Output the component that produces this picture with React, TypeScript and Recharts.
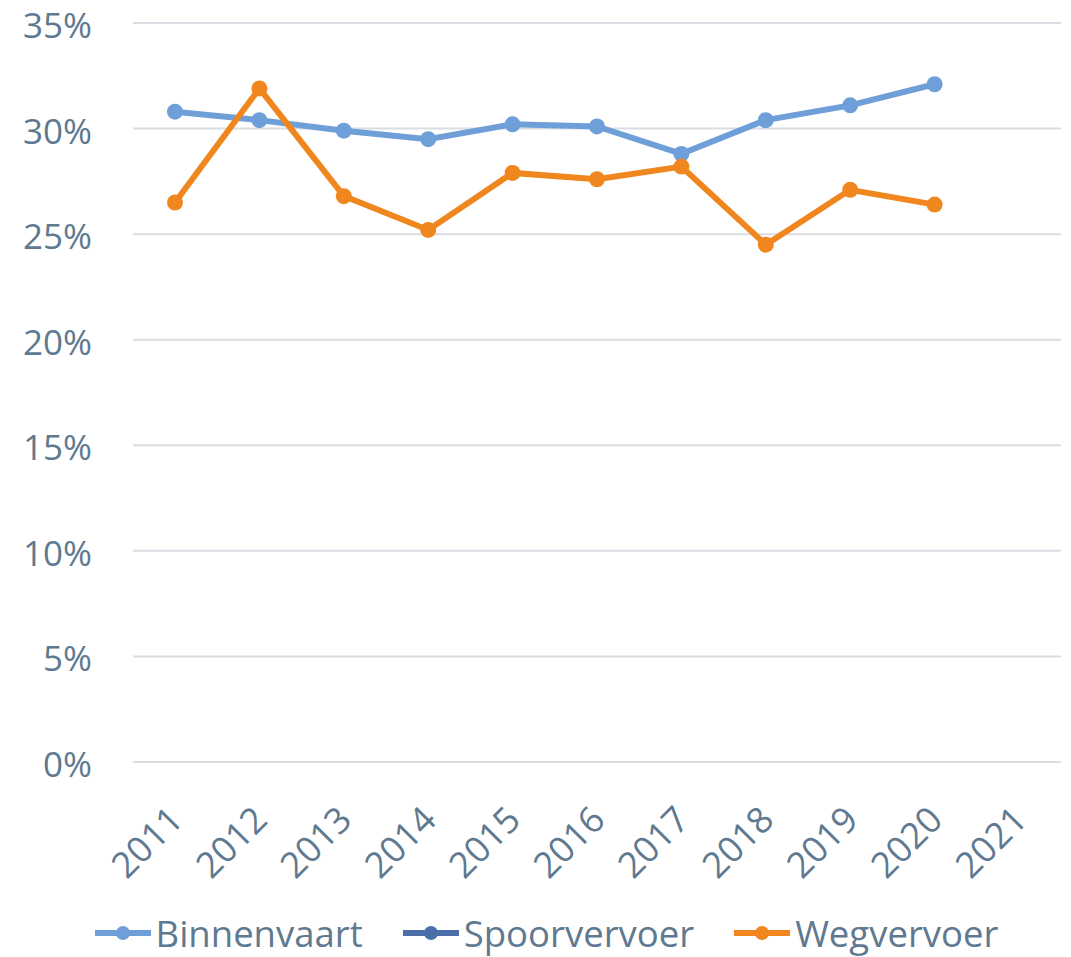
import { LineChart, Line, XAxis, YAxis, CartesianGrid, Legend } from 'recharts'

const years = ['2011', '2012', '2013', '2014', '2015', '2016', '2017', '2018', '2019', '2020', '2021']
const binnenvaart = [30.8, 30.4, 29.9, 29.5, 30.2, 30.1, 28.8, 30.4, 31.1, 32.1, null]
const spoorvervoer = [null, null, null, null, null, null, null, null, null, null, null]
const wegvervoer = [26.5, 31.9, 26.8, 25.2, 27.9, 27.6, 28.2, 24.5, 27.1, 26.4, null]
const yTicks = [0, 5, 10, 15, 20, 25, 30, 35]

const data = years.map((y, i) => ({
  year: y,
  Binnenvaart: binnenvaart[i],
  Spoorvervoer: spoorvervoer[i],
  Wegvervoer: wegvervoer[i],
}))

const FONT = '"Open Sans", sans-serif'
const TEXT = '#5E7990'

function XTick({ x, y, payload }: any) {
  const ax = x + 10
  const ay = y + 58
  return (
    <text
      x={ax}
      y={ay}
      transform={`rotate(-45, ${ax}, ${ay})`}
      textAnchor="end"
      fill={TEXT}
      fontSize={36}
      fontFamily={FONT}
    >
      {payload.value}
    </text>
  )
}

function YTick({ x, y, payload }: any) {
  return (
    <text x={x} y={y + 15} textAnchor="end" fill={TEXT} fontSize={35} fontFamily={FONT}>
      {`${payload.value}%`}
    </text>
  )
}

function LegendBox({ payload }: any) {
  return (
    <div style={{ height: 70, paddingTop: 22, paddingLeft: 32, boxSizing: 'border-box', display: 'flex', justifyContent: 'center', fontFamily: FONT, fontSize: 36.5, color: TEXT, lineHeight: '40px' }}>
      {(payload || []).map((p: any) => (
        <div key={p.value} style={{ display: 'flex', alignItems: 'center', margin: '0 20px' }}>
          <svg width={56} height={20} style={{ marginRight: 5 }}>
            <line x1={0} y1={10} x2={56} y2={10} stroke={p.color} strokeWidth={6} />
            <circle cx={28} cy={10} r={7} fill={p.color} />
          </svg>
          <span>{p.value}</span>
        </div>
      ))}
    </div>
  )
}

export default function App() {
  return (
    <div style={{ width: 1071, height: 957, margin: '-8px 0 0 -8px' }}>
      <LineChart width={1071} height={957} data={data} margin={{ top: 23, right: 10, bottom: 0, left: 0 }}>
        <CartesianGrid vertical={false} stroke="#D9DEE5" strokeWidth={2} />
        <XAxis
          dataKey="year"
          interval={0}
          axisLine={false}
          tickLine={false}
          tickSize={0}
          height={125}
          padding={{ left: 42, right: 42 }}
          tick={<XTick />}
        />
        <YAxis
          width={133}
          domain={[0, 35]}
          ticks={yTicks}
          axisLine={false}
          tickLine={false}
          tickSize={0}
          tickMargin={41}
          tick={<YTick />}
        />
        <Legend verticalAlign="bottom" content={<LegendBox />} />
        <Line dataKey="Binnenvaart" stroke="#6F9FD8" strokeWidth={6} dot={{ r: 8, fill: '#6F9FD8', stroke: '#6F9FD8', strokeWidth: 0 }} isAnimationActive={false} />
        <Line dataKey="Spoorvervoer" stroke="#4A6FA8" strokeWidth={6} dot={{ r: 8, fill: '#4A6FA8', stroke: '#4A6FA8', strokeWidth: 0 }} isAnimationActive={false} />
        <Line dataKey="Wegvervoer" stroke="#F0871E" strokeWidth={6} dot={{ r: 8, fill: '#F0871E', stroke: '#F0871E', strokeWidth: 0 }} isAnimationActive={false} />
      </LineChart>
    </div>
  )
}
